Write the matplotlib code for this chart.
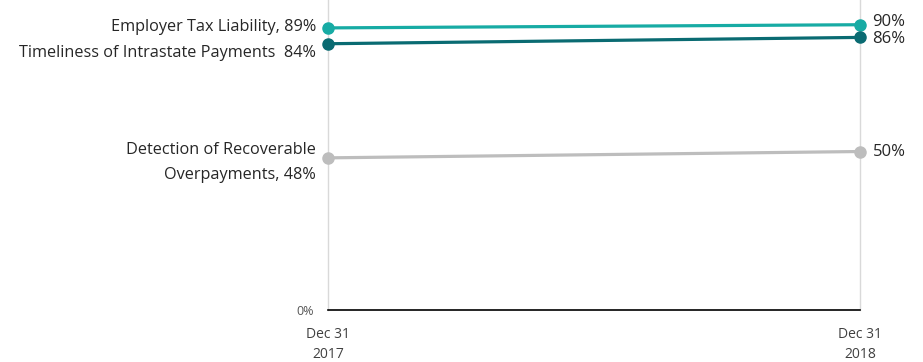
import matplotlib.pyplot as plt

# Valores por serie (2017, 2018)
dates = ['Dec 31\n2017', 'Dec 31\n2018']
employer_tax = [89, 90]
timeliness = [84, 86]
detection = [48, 50]

left_labels = ['Employer Tax Liability, 89%',
               'Timeliness of Intrastate Payments  84%',
               'Detection of Recoverable\nOverpayments, 48%']
right_labels = ['90%', '86%', '50%']

series = [employer_tax, timeliness, detection]
colors = ['#17aba4', '#0a6b72', '#bdbdbd']

# desplazamiento vertical de las etiquetas (puntos) para que no se pisen
left_dy = [0.5, -7, -3]
right_dy = [2, -1, -0.5]

plt.rcParams['font.family'] = ['Open Sans', 'DejaVu Sans']

fig = plt.figure(figsize=(9.23, 3.62), dpi=100)
ax = fig.add_axes([328 / 923, 52 / 362, 532 / 923, 310 / 362])

x = [0, 1]
for vals, col, ll, rl, ldy, rdy in zip(series, colors, left_labels,
                                       right_labels, left_dy, right_dy):
    ax.plot(x, vals, color=col, lw=2.3, marker='o', ms=8, zorder=3,
            solid_capstyle='round', clip_on=False)
    ax.annotate(ll, (0, vals[0]), xytext=(-8.5, ldy), textcoords='offset points',
                ha='right', va='center', fontsize=11.7, color='#262626',
                linespacing=1.75)
    ax.annotate(rl, (1, vals[1]), xytext=(9, rdy), textcoords='offset points',
                ha='left', va='center', fontsize=12, color='#262626')

ax.set_xlim(0, 1)
ax.set_ylim(0, 97.8)

# Líneas verticales en cada fecha
for xv in x:
    ax.axvline(xv, color='#d9d9d9', lw=1, zorder=1, clip_on=False)

for s in ['top', 'right', 'left']:
    ax.spines[s].set_visible(False)
ax.spines['bottom'].set_color('black')
ax.spines['bottom'].set_linewidth(1.2)
ax.spines['bottom'].set_zorder(2)

ax.set_yticks([0])
ax.set_yticklabels(['0%'], fontsize=9, color='#555555')
ax.tick_params(axis='y', length=0, pad=10)
ax.set_xticks(x)
ax.set_xticklabels(dates, fontsize=10, color='#404040', linespacing=1.45)
ax.tick_params(axis='x', length=0, pad=12)

fig.savefig('out.png', dpi=100)
